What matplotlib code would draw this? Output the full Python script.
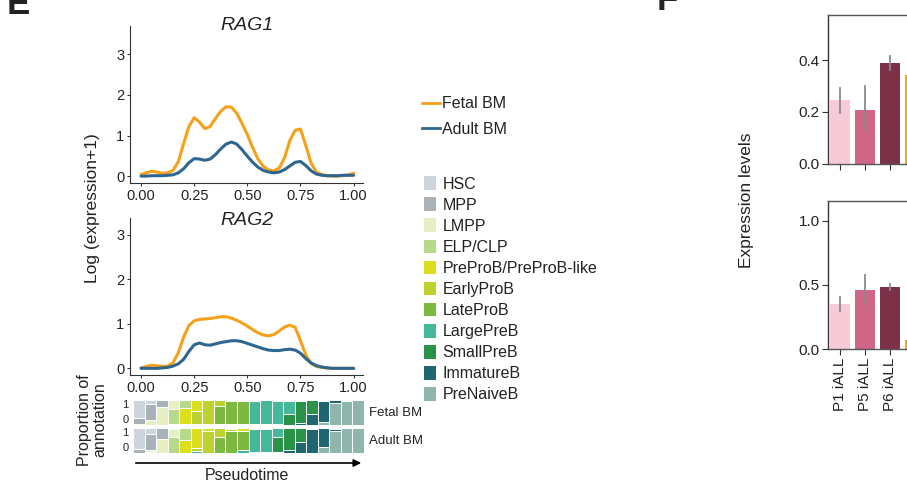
import numpy as np
import matplotlib
matplotlib.use("Agg")
from matplotlib import pyplot as plt
from matplotlib.patches import Patch, FancyArrowPatch
from matplotlib.lines import Line2D

plt.rcParams['font.family'] = ['Liberation Sans', 'DejaVu Sans']
plt.rcParams['text.color'] = '#222222'
plt.rcParams['axes.edgecolor'] = '#333333'
plt.rcParams['xtick.color'] = '#333333'
plt.rcParams['ytick.color'] = '#333333'
plt.rcParams['xtick.labelcolor'] = '#222222'
plt.rcParams['ytick.labelcolor'] = '#222222'

# pseudotime grid of the smoothed expression curves
pseudotime = np.arange(41) * 0.025

rag1_fetal = [0.04, 0.08, 0.12, 0.10, 0.07, 0.08, 0.14, 0.35, 0.80, 1.22,
              1.44, 1.33, 1.17, 1.22, 1.42, 1.60, 1.71, 1.70, 1.55, 1.30,
              1.02, 0.70, 0.42, 0.24, 0.15, 0.13, 0.20, 0.45, 0.88, 1.13,
              1.16, 0.75, 0.32, 0.10, 0.04, 0.01, 0.00, 0.00, 0.01, 0.03, 0.07]
rag1_adult = [0.00, 0.00, 0.01, 0.01, 0.01, 0.02, 0.03, 0.08, 0.18, 0.33,
              0.43, 0.42, 0.39, 0.42, 0.53, 0.67, 0.79, 0.84, 0.79, 0.65,
              0.49, 0.34, 0.22, 0.14, 0.10, 0.08, 0.10, 0.16, 0.25, 0.34,
              0.36, 0.26, 0.13, 0.05, 0.02, 0.01, 0.01, 0.01, 0.02, 0.02, 0.02]
rag2_fetal = [0.01, 0.04, 0.07, 0.06, 0.04, 0.05, 0.12, 0.35, 0.70, 0.96,
              1.07, 1.10, 1.11, 1.12, 1.14, 1.16, 1.16, 1.13, 1.08, 1.02,
              0.95, 0.87, 0.80, 0.75, 0.73, 0.76, 0.84, 0.93, 0.97, 0.92,
              0.62, 0.30, 0.11, 0.04, 0.02, 0.01, 0.00, 0.00, 0.00, 0.00, 0.00]
rag2_adult = [0.00, 0.00, 0.00, 0.00, 0.01, 0.02, 0.05, 0.10, 0.20, 0.38,
              0.53, 0.57, 0.53, 0.52, 0.55, 0.58, 0.60, 0.62, 0.62, 0.60,
              0.56, 0.52, 0.48, 0.44, 0.41, 0.40, 0.40, 0.42, 0.43, 0.41,
              0.34, 0.22, 0.12, 0.06, 0.03, 0.01, 0.00, 0.00, 0.00, 0.00, 0.00]

celltypes = ['HSC', 'MPP', 'LMPP', 'ELP/CLP', 'PreProB/PreProB-like', 'EarlyProB',
             'LateProB', 'LargePreB', 'SmallPreB', 'ImmatureB', 'PreNaiveB']
celltype_colors = ['#CDD4DC', '#A9B1B9', '#E5EFC1', '#B7D98C', '#DCDF1E', '#BDD12F',
                   '#7DB941', '#46B89A', '#2A9347', '#1F6670', '#8FB5AC']

# proportion of each annotation in 20 pseudotime bins (rows = bins, cols = celltypes)
fetal_props = [
    [0.73, 0.23, 0.04, 0, 0, 0, 0, 0, 0, 0, 0],
    [0.16, 0.63, 0.21, 0, 0, 0, 0, 0, 0, 0, 0],
    [0, 0.27, 0.73, 0, 0, 0, 0, 0, 0, 0, 0],
    [0, 0, 0.34, 0.62, 0, 0, 0, 0, 0, 0.04, 0],
    [0, 0, 0, 0.31, 0.65, 0, 0, 0.04, 0, 0, 0],
    [0, 0, 0, 0, 0.45, 0.51, 0, 0.04, 0, 0, 0],
    [0, 0, 0, 0, 0, 0.96, 0, 0, 0, 0.04, 0],
    [0, 0, 0, 0, 0, 0.23, 0.73, 0, 0.04, 0, 0],
    [0, 0, 0, 0, 0.04, 0, 0.92, 0, 0.04, 0, 0],
    [0, 0, 0, 0, 0.04, 0, 0.92, 0.04, 0, 0, 0],
    [0, 0, 0, 0, 0.04, 0, 0, 0.93, 0, 0.03, 0],
    [0, 0, 0, 0, 0.01, 0, 0, 0.95, 0.04, 0, 0],
    [0, 0, 0.03, 0, 0, 0, 0, 0.93, 0.04, 0, 0],
    [0, 0, 0, 0.04, 0, 0, 0, 0.52, 0.44, 0, 0],
    [0, 0, 0, 0.04, 0, 0, 0, 0, 0.86, 0.10, 0],
    [0, 0, 0, 0, 0, 0, 0, 0, 0.55, 0.45, 0],
    [0, 0, 0, 0, 0, 0, 0.03, 0, 0, 0.83, 0.14],
    [0, 0, 0, 0, 0, 0, 0, 0, 0, 0.11, 0.89],
    [0, 0, 0, 0, 0, 0, 0, 0.05, 0, 0, 0.95],
    [0, 0, 0, 0, 0, 0, 0, 0, 0, 0, 1.00],
]
adult_props = [
    [0.83, 0.17, 0, 0, 0, 0, 0, 0, 0, 0, 0],
    [0.23, 0.65, 0.07, 0, 0, 0, 0, 0, 0.05, 0, 0],
    [0, 0.45, 0.55, 0, 0, 0, 0, 0, 0, 0, 0],
    [0, 0.05, 0.32, 0.63, 0, 0, 0, 0, 0, 0, 0],
    [0, 0, 0, 0.49, 0.51, 0, 0, 0, 0, 0, 0],
    [0, 0, 0, 0, 0.80, 0.13, 0, 0.07, 0, 0, 0],
    [0, 0, 0, 0, 0.10, 0.90, 0, 0, 0, 0, 0],
    [0, 0, 0, 0, 0, 0.35, 0.65, 0, 0, 0, 0],
    [0, 0, 0, 0, 0.05, 0.08, 0.87, 0, 0, 0, 0],
    [0, 0, 0, 0, 0.10, 0, 0.76, 0.14, 0, 0, 0],
    [0, 0, 0, 0, 0.05, 0, 0, 0.92, 0, 0.03, 0],
    [0, 0, 0.05, 0, 0, 0, 0, 0.92, 0.03, 0, 0],
    [0, 0, 0, 0, 0, 0, 0, 0.37, 0.60, 0.03, 0],
    [0, 0, 0, 0, 0, 0, 0, 0, 0.87, 0.13, 0],
    [0, 0, 0, 0, 0, 0, 0, 0, 0.55, 0.45, 0],
    [0, 0, 0, 0, 0, 0, 0, 0, 0.05, 0.95, 0],
    [0, 0, 0, 0, 0, 0, 0, 0, 0, 0.75, 0.25],
    [0, 0, 0, 0, 0, 0, 0, 0.05, 0, 0.05, 0.90],
    [0, 0, 0, 0, 0, 0, 0, 0, 0, 0, 1.00],
    [0, 0, 0, 0, 0, 0, 0, 0, 0, 0, 1.00],
]

# panel F: expression in patient samples
samples = ['P1 iALL', 'P5 iALL', 'P6 iALL', '']
sample_colors = ['#F7CAD7', '#D06686', '#7B3249', '#E3AE2A']
rag1_expr = [0.245, 0.205, 0.388, 0.342]
rag1_lo = [0.195, 0.130, 0.360, 0.342]
rag1_hi = [0.290, 0.300, 0.415, 0.342]
rag2_expr = [0.352, 0.461, 0.482, 0.072]
rag2_lo = [0.300, 0.350, 0.460, 0.072]
rag2_hi = [0.410, 0.580, 0.510, 0.072]

FETAL_C = '#F7A11A'
ADULT_C = '#2F6690'

W, H = 907, 484
fig = plt.figure(figsize=(W / 100, H / 100), dpi=100)


def px_axes(x0, y0, x1, y1):
    return fig.add_axes([x0 / W, 1 - y1 / H, (x1 - x0) / W, (y1 - y0) / H])


def curve_axes(ax, fetal, adult, title, ylim, title_y):
    ax.plot(pseudotime, fetal, color=FETAL_C, lw=2.2, solid_capstyle='round')
    ax.plot(pseudotime, adult, color=ADULT_C, lw=2.2, solid_capstyle='round')
    ax.set_xlim(-0.052, 1.044)
    ax.set_ylim(*ylim)
    ax.set_xticks([0, 0.25, 0.5, 0.75, 1.0])
    ax.set_xticklabels(['0.00', '0.25', '0.50', '0.75', '1.00'])
    ax.set_yticks([0, 1, 2, 3])
    ax.tick_params(labelsize=10.5, length=2.5, width=0.8)
    ax.tick_params(axis='x', pad=2)
    ax.tick_params(axis='y', pad=1.5)
    for s in ['top', 'right']:
        ax.spines[s].set_visible(False)
    for s in ['left', 'bottom']:
        ax.spines[s].set_linewidth(0.8)
    ax.text(0.5, title_y, title, transform=ax.transAxes, fontsize=14,
            style='italic', ha='center', va='center')


ax1 = px_axes(130, 26, 363, 183)
curve_axes(ax1, rag1_fetal, rag1_adult, 'RAG1', (-0.17, 3.7), 1.006)
ax2 = px_axes(130, 218, 363, 375)
curve_axes(ax2, rag2_fetal, rag2_adult, 'RAG2', (-0.15, 3.38), 0.987)

fig.text(93 / W, 1 - 208 / H, 'Log (expression+1)', rotation=90,
         ha='center', va='center', fontsize=12.5)


# stacked proportion bars
def prop_axes(ax, props, label):
    props = np.array(props)
    bins = np.arange(len(props))
    bottom = np.zeros(len(props))
    for k in range(len(celltypes) - 1, -1, -1):
        ax.bar(bins, props[:, k], bottom=bottom, width=1, align='edge',
               color=celltype_colors[k], edgecolor='white', linewidth=0.7)
        bottom += props[:, k]
    ax.set_xlim(0, len(props))
    ax.set_ylim(0, 1)
    ax.set_xticks([])
    ax.set_yticks([0, 1])
    ax.set_yticklabels(['0', '1'], fontsize=8)
    ax.get_yticklabels()[0].set_va('bottom')
    ax.get_yticklabels()[1].set_va('top')
    ax.tick_params(axis='y', length=0, pad=3)
    for s in ax.spines.values():
        s.set_visible(False)
    ax.text(1.02, 0.5, label, transform=ax.transAxes, ha='left', va='center',
            fontsize=9.5)


axf = px_axes(133, 400, 364, 425)
prop_axes(axf, fetal_props, 'Fetal BM')
axa = px_axes(133, 428, 364, 453)
prop_axes(axa, adult_props, 'Adult BM')

fig.text(92 / W, 1 - 420 / H, 'Proportion of\nannotation', rotation=90,
         ha='center', va='center', fontsize=11.5, linespacing=1.0)

fig.add_artist(FancyArrowPatch(
    (133 / W, 1 - 463 / H), (364 / W, 1 - 463 / H), transform=fig.transFigure,
    arrowstyle='-|>', mutation_scale=11, color='black', lw=1.2))
fig.text(247 / W, 1 - 476 / H, 'Pseudotime', ha='center', va='center', fontsize=11.5)

# legends
line_handles = [Line2D([0], [0], color=FETAL_C, lw=2), Line2D([0], [0], color=ADULT_C, lw=2)]
fig.legend(line_handles, ['Fetal BM', 'Adult BM'], loc='upper left',
           bbox_to_anchor=(416 / W, 1 - 90 / H), frameon=False, fontsize=11.5,
           handlelength=1.1, handletextpad=0.15, labelspacing=0.65, borderaxespad=0)
patch_handles = [Patch(facecolor=c, edgecolor='none') for c in celltype_colors]
fig.legend(patch_handles, celltypes, loc='upper left',
           bbox_to_anchor=(418 / W, 1 - 170 / H), frameon=False, fontsize=11.5,
           handlelength=0.72, handleheight=0.95, handletextpad=0.4,
           labelspacing=0.355, borderaxespad=0)


# panel F bars, running off the right edge
def expr_axes(ax, vals, lo, hi, ylim, yticks, ytl, show_labels):
    x = np.arange(len(vals))
    ax.bar(x, vals, width=0.8, color=sample_colors)
    for i in range(len(vals)):
        if hi[i] > lo[i]:
            ax.plot([x[i], x[i]], [lo[i], hi[i]], color='#8A8A8A', lw=1.3)
    ax.set_xlim(-0.48, -0.48 + 272 / 25)
    ax.set_ylim(*ylim)
    ax.set_yticks(yticks)
    ax.set_yticklabels(ytl)
    ax.set_xticks(x)
    if show_labels:
        ax.set_xticklabels(samples, rotation=90)
    else:
        ax.set_xticklabels([])
    ax.tick_params(labelsize=11, length=4, width=0.8, pad=2)
    for s in ax.spines.values():
        s.set_linewidth(1.0)
        s.set_color('#555555')
    ax.spines['left'].set_color('#333333')


axr1 = px_axes(828, 15, 1100, 163.5)
expr_axes(axr1, rag1_expr, rag1_lo, rag1_hi, (0, 0.574), [0, 0.2, 0.4],
          ['0.0', '0.2', '0.4'], False)
axr2 = px_axes(828, 200.7, 1100, 349.3)
expr_axes(axr2, rag2_expr, rag2_lo, rag2_hi, (0, 1.155), [0, 0.5, 1.0],
          ['0.0', '0.5', '1.0'], True)

fig.text(746 / W, 1 - 200 / H, 'Expression levels', rotation=90,
         ha='center', va='center', fontsize=12.5)

# panel letters sitting at the top edge
fig.text(7 / W, 1 - 14 / H, 'E', fontsize=25, fontweight='bold', ha='left', va='baseline')
fig.text(657 / W, 1 - 10 / H, 'F', fontsize=25, fontweight='bold', ha='left', va='baseline')

fig.savefig('out.png', dpi=100)
